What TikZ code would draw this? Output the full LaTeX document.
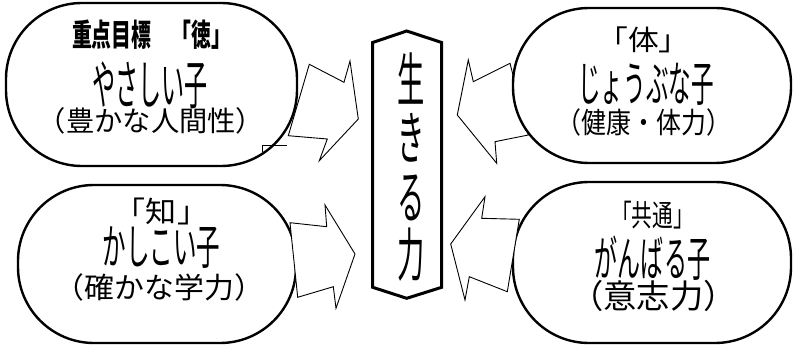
\documentclass[tikz,border=0pt]{standalone}
\usepackage{graphicx}
\usepackage{fontspec}
\setmainfont{Noto Sans CJK JP}
\newcommand\jline[3]{{\fontsize{#1pt}{#1pt}\selectfont\scalebox{#2}[1]{#3}}}
\begin{document}
\begin{tikzpicture}[x=1pt,y=-1pt,
  oval/.style={draw,line width=2.4pt,fill=white,rounded corners=76pt,inner sep=0pt},
  blockarrow/.style={draw,line width=0.9pt,fill=white,line join=miter},
  hexa/.style={draw,line width=3pt,line join=miter,fill=white},
  txt/.style={inner sep=0pt,outer sep=0pt}]
\useasboundingbox (0,0) rectangle (793,345);

% top-left arrow (behind its oval)
\draw[blockarrow] (309.3,64.3) -- (344,82.3) -- (350,61) -- (358.3,119) -- (319.3,160.7) -- (327.3,139) -- (288.3,135.7) -- cycle;
\node[oval, minimum width=291pt, minimum height=163pt] (tl) at (151.5,84.5) {};
\draw[line width=0.9pt] (262,151.7) -- (262,145.7) -- (287,145.7);

% top-right arrow (behind its oval)
\draw[blockarrow] (457.3,115) -- (468.3,60) -- (473.3,81.7) -- (510,63.3) -- (528.3,135) -- (495,141.7) -- (496.7,163.3) -- cycle;
\node[oval, minimum width=278pt, minimum height=155pt] (tr) at (652,85.5) {};

% bottom-left oval and arrow
\node[oval, minimum width=278pt, minimum height=158pt] (bl) at (157,264) {};
\draw[blockarrow] (290,222.7) -- (326.7,226.7) -- (325,205) -- (355,254) -- (336,308.3) -- (333.3,286.7) -- (297.7,297.3) -- cycle;

% bottom-right oval and arrow
\node[oval, minimum width=278pt, minimum height=161pt] (br) at (652,262.5) {};
\draw[blockarrow] (450.7,244) -- (485,196.7) -- (481.7,218.3) -- (519.3,219.3) -- (507.3,291.7) -- (469.3,276.7) -- (465,300) -- cycle;

% centre
\draw[hexa] (372.7,42.5) -- (406.7,31) -- (441.7,42.5) -- (441.7,287.3) -- (406.7,298.3) -- (372.7,287.3) -- cycle;
\node[txt] (c1) at (411,79) {\jline{58}{0.47}{生}};
\node[txt] (c2) at (411,138) {\jline{58}{0.47}{き}};
\node[txt] (c3) at (411,198) {\jline{58}{0.47}{る}};
\node[txt] (c4) at (411,255) {\jline{58}{0.47}{力}};

% texts top-left
\node[txt] (tl1) at (151.5,35) {\bfseries\jline{31}{0.64}{重点目標　「徳」}};
\node[txt] (tl2) at (150,85) {\jline{53}{0.435}{やさしい子}};
\node[txt] (tl3) at (151,121) {\jline{28}{1.01}{（豊かな人間性）}};

% texts top-right
\node[txt] (tr1) at (643.5,40) {\jline{28}{1.1}{「体」}};
\node[txt] (tr2) at (646,84) {\jline{48}{0.47}{じょうぶな子}};
\node[txt] (tr3) at (644,122) {\jline{29}{0.86}{（健康・体力）}};

% texts bottom-left
\node[txt] (bl1) at (161.5,211) {\jline{29}{1.07}{「知」}};
\node[txt] (bl2) at (161.5,248) {\jline{48}{0.49}{かしこい子}};
\node[txt] (bl3) at (159.5,287.5) {\jline{29}{1.03}{（確かな学力）}};

% texts bottom-right
\node[txt] (br1) at (652.5,215) {\jline{30}{0.69}{「共通」}};
\node[txt] (br2) at (652.5,258) {\jline{48}{0.48}{がんばる子}};
\node[txt] (br3) at (653.5,296) {\jline{33}{1.01}{（意志力）}};
\end{tikzpicture}
\end{document}
